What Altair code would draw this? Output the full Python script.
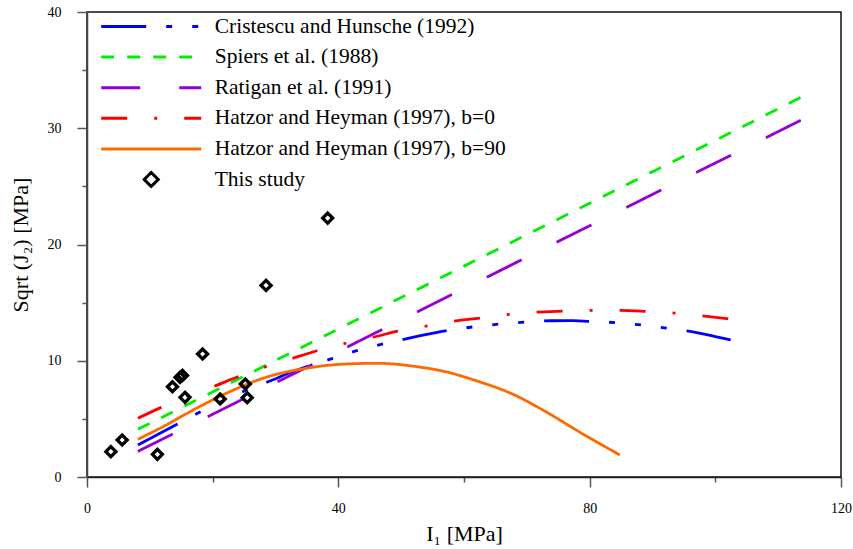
import altair as alt
import pandas as pd

series_names = [
    "Cristescu and Hunsche (1992)",
    "Spiers et al. (1988)",
    "Ratigan et al. (1991)",
    "Hatzor and Heyman (1997), b=0",
    "Hatzor and Heyman (1997), b=90",
    "This study",
]

# Cristescu and Hunsche (1992)
ch_x = [8.1, 14.4, 17.6, 22.0, 25.5, 28.8, 32.7, 36.0, 39.1, 43.3, 46.8, 50.8, 54.5,
        57.8, 61.6, 65.8, 70.0, 73.7, 77.3, 81.0, 84.6, 88.8, 93.0, 96.6, 100.0, 103.8]
ch_y = [2.75, 4.56, 5.48, 6.65, 7.50, 8.19, 9.05, 9.69, 10.20, 10.92, 11.41, 11.89, 12.31,
        12.64, 12.92, 13.16, 13.33, 13.44, 13.45, 13.35, 13.27, 13.04, 12.75, 12.47, 12.08, 11.63]

# Spiers et al. (1988)
sp_x = [8.1, 20.0, 40.0, 60.0, 80.0, 100.0, 114.9]
sp_y = [4.10, 7.32, 12.73, 18.14, 23.55, 28.96, 33.00]

# Ratigan et al. (1991)
ra_x = [8.1, 20.0, 40.0, 60.0, 80.0, 100.0, 114.9]
ra_y = [2.20, 5.40, 10.80, 16.21, 21.61, 27.01, 31.04]

# Hatzor and Heyman (1997), b=0
h0_x = [8.1, 11.8, 15.7, 20.3, 24.0, 28.4, 32.7, 36.6, 41.1, 46.5, 49.4, 54.0,
        58.5, 62.5, 67.1, 71.6, 75.7, 80.2, 84.8, 88.9, 93.5, 97.9, 102.1]
h0_y = [5.05, 5.99, 6.90, 7.82, 8.62, 9.48, 10.21, 10.86, 11.50, 12.15, 12.55, 12.98,
        13.41, 13.67, 13.99, 14.19, 14.27, 14.33, 14.33, 14.25, 14.10, 13.87, 13.61]

# Hatzor and Heyman (1997), b=90
h90_x = [8.1, 12.1, 17.4, 22.7, 28.0, 34.9, 41.2, 46.5, 51.8, 57.1, 62.4, 67.7, 73.0, 78.3, 84.8]
h90_y = [3.24, 4.33, 5.91, 7.33, 8.49, 9.35, 9.72, 9.78, 9.54, 9.05, 8.20, 7.14, 5.62, 3.90, 1.89]

# This study
st_x = [3.8, 5.6, 11.2, 13.6, 14.8, 15.2, 15.6, 18.4, 21.2, 25.2, 25.5, 28.5, 38.3]
st_y = [2.18, 3.18, 1.95, 7.76, 8.57, 8.74, 6.85, 10.58, 6.71, 8.00, 6.82, 16.48, 22.27]

x_ticks = [0, 20, 40, 60, 80, 100, 120]
y_ticks = [0, 5, 10, 15, 20, 25, 30, 35, 40]

colors = ["#0000FF", "#00EE00", "#9400D3", "#FF0000", "#FF6A00", "#000000"]
dashes = [[45, 20, 6, 20, 6, 20, 6, 20], [13, 13], [39, 39], [26, 27, 3, 27], [1, 0], [1, 0]]
shapes = ["stroke", "stroke", "stroke", "stroke", "stroke", "M-0.14,0L0,-0.14L0.14,0L0,0.14Z"]

rows = []
for name, xs, ys in [
    (series_names[0], ch_x, ch_y),
    (series_names[1], sp_x, sp_y),
    (series_names[2], ra_x, ra_y),
    (series_names[3], h0_x, h0_y),
    (series_names[4], h90_x, h90_y),
]:
    for xv, yv in zip(xs, ys):
        rows.append({"series": name, "I1": xv, "J": yv})
line_df = pd.DataFrame(rows)
pt_df = pd.DataFrame({"series": series_names[5], "I1": st_x, "J": st_y})

FONT = "Liberation Serif"

xaxis = alt.Axis(
    values=x_ticks,
    labelExpr="datum.value % 40 == 0 ? datum.label : ''",
    tickSize={"condition": {"test": "datum.value % 40 == 0", "value": 10}, "value": 5},
    title="I₁ [MPa]",
    grid=False,
    labelFont=FONT, labelFontSize=14, labelColor="#000", labelPadding=14,
    titleFont=FONT, titleFontSize=22, titleFontWeight="normal", titleColor="#000",
    titlePadding=8,
    domainColor="#222", domainWidth=1.5, tickColor="#555", tickWidth=1.5,
    labelFlush=False, labelOverlap=False,
)
yaxis = alt.Axis(
    values=y_ticks,
    labelExpr="datum.value % 10 == 0 ? datum.label : ''",
    tickSize={"condition": {"test": "datum.value % 10 == 0", "value": 10}, "value": 5},
    title="Sqrt (J₂) [MPa]",
    grid=False,
    labelFont=FONT, labelFontSize=14, labelColor="#000", labelPadding=16,
    titleFont=FONT, titleFontSize=22, titleFontWeight="normal", titleColor="#000",
    titlePadding=15,
    domainColor="#444", domainWidth=1.5, tickColor="#555", tickWidth=1.5,
    labelFlush=False, labelOverlap=False,
)

leg = alt.Legend(title=None)

xenc = alt.X("I1:Q", scale=alt.Scale(domain=[0, 120], nice=False), axis=xaxis)
yenc = alt.Y("J:Q", scale=alt.Scale(domain=[0, 40], nice=False), axis=yaxis)
color_enc = alt.Color("series:N", scale=alt.Scale(domain=series_names, range=colors), legend=leg)

lines = alt.Chart(line_df).mark_line(strokeWidth=2.8, interpolate="monotone").encode(
    x=xenc,
    y=yenc,
    color=color_enc,
    strokeDash=alt.StrokeDash("series:N", scale=alt.Scale(domain=series_names, range=dashes), legend=leg),
)

points = alt.Chart(pt_df).mark_point(filled=False, strokeWidth=3.3, size=5100, opacity=1).encode(
    x=xenc,
    y=yenc,
    color=color_enc,
    shape=alt.Shape("series:N", scale=alt.Scale(domain=series_names, range=shapes), legend=leg),
)

chart = (
    alt.layer(lines, points)
    .properties(
        width=754,
        height=465,
        padding={"left": 87, "top": 12, "right": 12, "bottom": 72},
        autosize=alt.AutoSizeParams(type="none"),
        background="white",
    )
    .configure_view(stroke="#111", strokeWidth=1.5)
    .configure_legend(
        orient="none",
        legendX=12.7,
        legendY=3.5,
        padding=0,
        symbolSize=10000,
        symbolStrokeWidth=3,
        symbolType="stroke",
        clipHeight=22,
        rowPadding=8.6,
        labelOffset=12,
        labelFont=FONT,
        labelFontSize=21.5,
        labelColor="#000",
        labelLimit=400,
        symbolLimit=0,
    )
)

chart.save("out.html", embed_options={"renderer": "svg", "actions": False})
